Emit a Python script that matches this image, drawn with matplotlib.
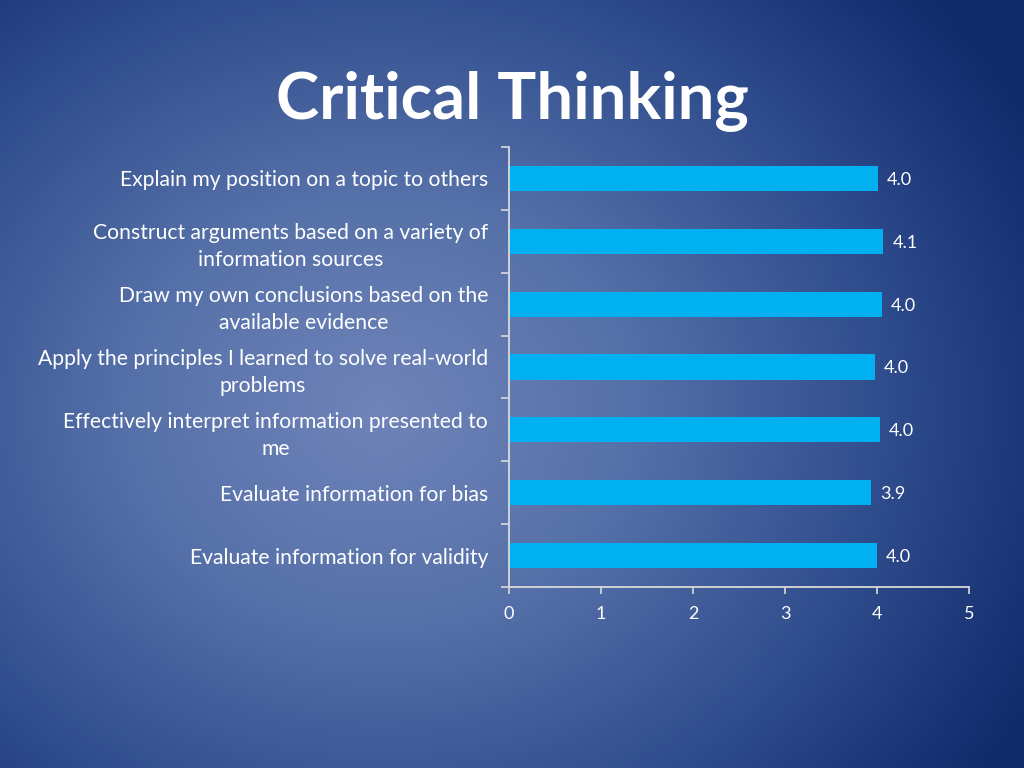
import numpy as np
import matplotlib
matplotlib.use("Agg")
import matplotlib.pyplot as plt
from matplotlib.colors import LinearSegmentedColormap

categories = [
    "Explain my position on a topic to others",
    "Construct arguments based on a variety of\ninformation sources",
    "Draw my own conclusions based on the\navailable evidence",
    "Apply the principles I learned to solve real-world\nproblems",
    "Effectively interpret information presented to\nme",
    "Evaluate information for bias",
    "Evaluate information for validity",
]
values = [4.01, 4.07, 4.05, 3.98, 4.03, 3.94, 4.00]
x_ticks = [0, 1, 2, 3, 4, 5]
title = "Critical Thinking"

FONT = "Lato"
W, H, DPI = 10.24, 7.68, 100
fig = plt.figure(figsize=(W, H), dpi=DPI)

# radial gradient background
bg = fig.add_axes([0, 0, 1, 1], zorder=-10)
yy, xx = np.mgrid[0:768, 0:1024]
cx, cy = 380, 410
r = np.sqrt(((xx - cx) / 700.0) ** 2 + ((yy - cy) / 600.0) ** 2)
r = np.clip(r / 1.05, 0, 1)
cmap = LinearSegmentedColormap.from_list(
    "bg", [(0, "#6f84b9"), (0.35, "#5570a8"), (0.7, "#2e4b8c"), (1.0, "#112b6b")])
bg.imshow(r, cmap=cmap, aspect="auto", extent=[0, 1, 0, 1], origin="upper", interpolation="bilinear")
bg.set_axis_off()

ax = fig.add_axes([509 / 1024, 1 - 587 / 768, 460 / 1024, 440 / 768])
ax.patch.set_alpha(0)
n = len(categories)
ypos = np.arange(n)
ax.barh(ypos, values, height=0.4, color="#00b0f0", edgecolor="none")
ax.set_ylim(n - 0.5, -0.5)
ax.set_xlim(0, 5)
ax.set_xticks(x_ticks)
ax.set_xticklabels([str(t) for t in x_ticks])
ax.set_yticks(ypos)
ax.set_yticklabels(categories, multialignment="center", linespacing=1.45)
ax.set_yticks(np.arange(-0.5, n, 1.0), minor=True)
ax.tick_params(axis="y", which="major", length=0, pad=15, labelsize=15.2, labelcolor="white")
ax.tick_params(axis="y", which="minor", length=6, width=1.2, color="#d9d9d9", direction="out")
ax.tick_params(axis="x", which="major", length=5, width=1.2, color="#d9d9d9", direction="out",
               pad=9, labelsize=13, labelcolor="white")
for lab in ax.get_yticklabels() + ax.get_xticklabels():
    lab.set_fontfamily(FONT)
for s in ["top", "right"]:
    ax.spines[s].set_visible(False)
for s in ["left", "bottom"]:
    ax.spines[s].set_color("#d9d9d9")
    ax.spines[s].set_linewidth(1.3)

for y, v in zip(ypos, values):
    ax.annotate(f"{v:.1f}", (v, y), xytext=(6.5, -1), textcoords="offset points",
                ha="left", va="center", color="white", fontsize=13, fontfamily=FONT)

fig.text(0.5, 1 - 102 / 768, title, ha="center", va="center", color="white",
         fontsize=46.9, fontweight="bold", fontfamily=FONT)

fig.savefig("out.png", dpi=DPI)
